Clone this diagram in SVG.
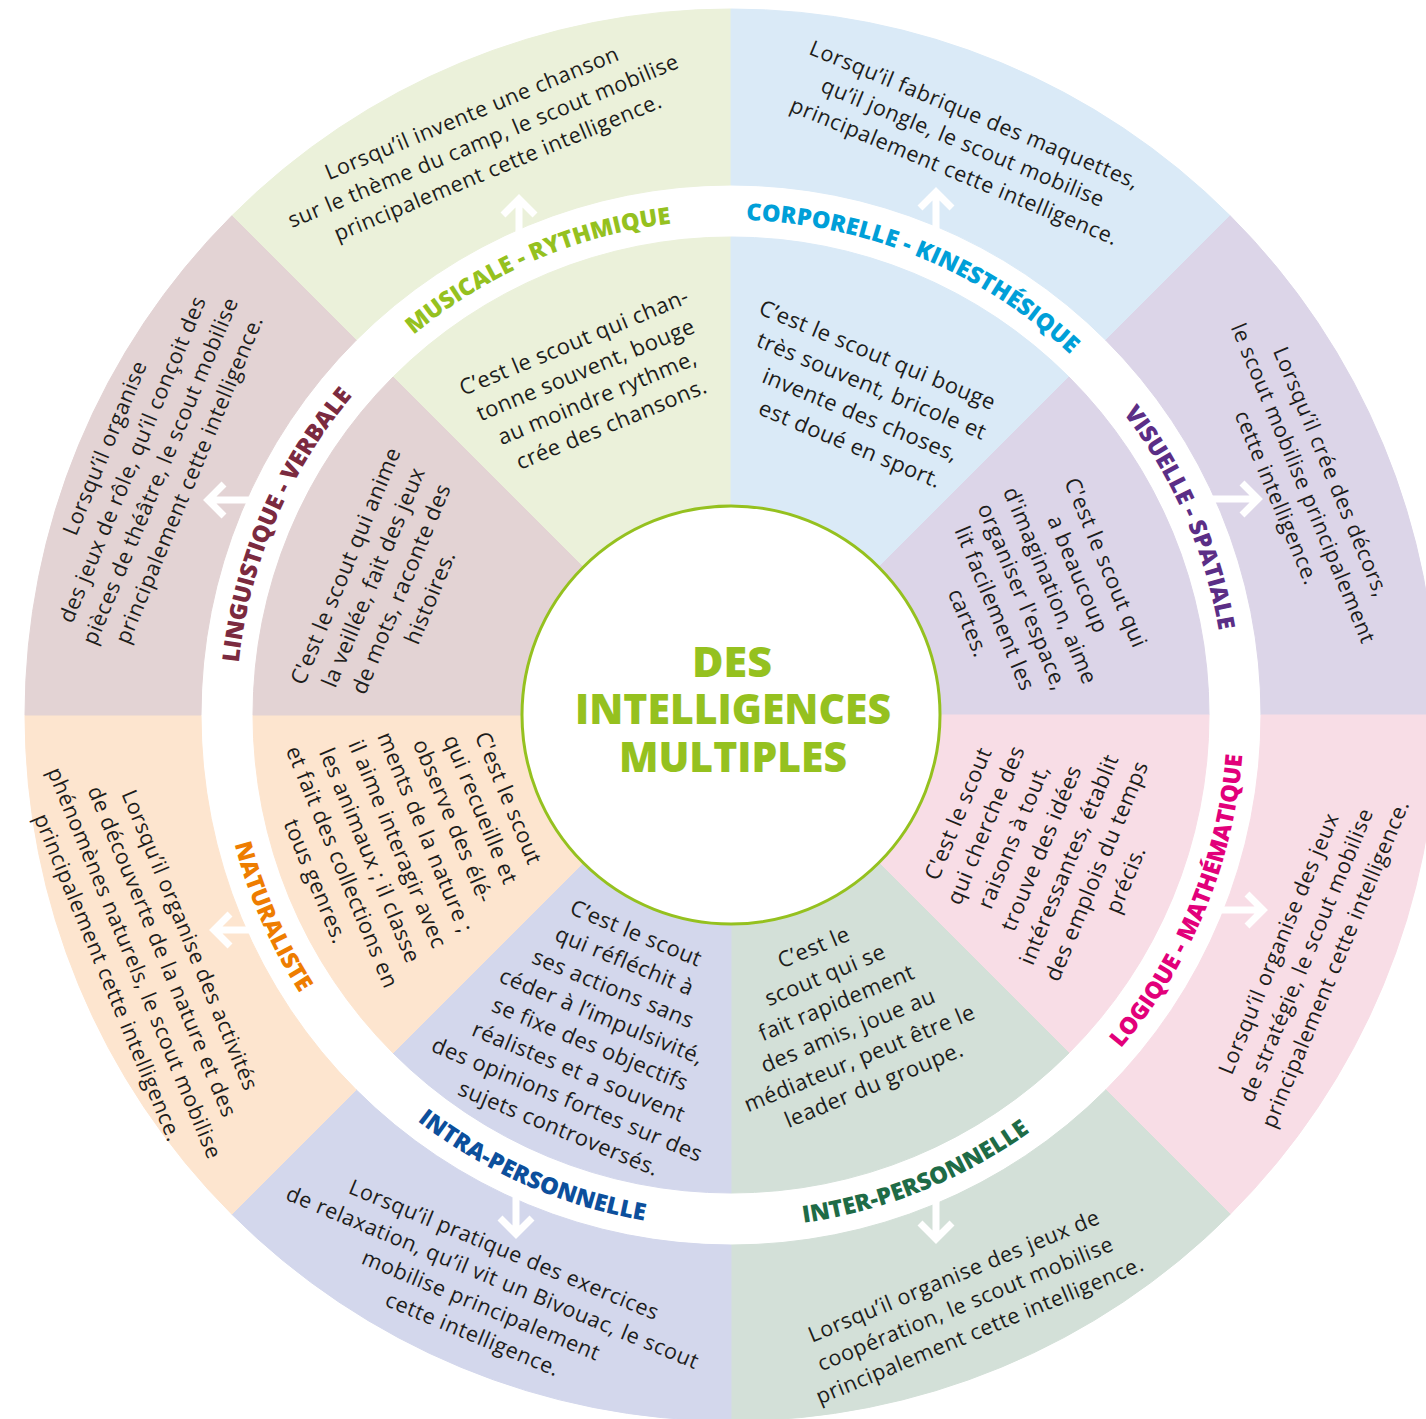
<svg xmlns="http://www.w3.org/2000/svg" xmlns:xlink="http://www.w3.org/1999/xlink" width="1426" height="1419" viewBox="0 0 1426 1419">
  <style>
    .txt { font-family: "Open Sans", "Noto Sans", "Liberation Sans", sans-serif; fill: #1d1d1b; }
    .in { font-size: 22px; letter-spacing: 0.5px; }
    .out { font-size: 21.5px; letter-spacing: 0.6px; }
    .lbl { font-family: "Open Sans", "Noto Sans", sans-serif; font-weight: 800; font-size: 23.5px; }
    .title { font-family: "Open Sans", "Noto Sans", sans-serif; font-weight: 800; font-size: 43px; fill: #95c11f; }
    .mus { fill: #ebf1da; stroke: #ebf1da; }
    .cor { fill: #daeaf7; stroke: #daeaf7; }
    .vis { fill: #dcd5e8; stroke: #dcd5e8; }
    .log { fill: #f8dde6; stroke: #f8dde6; }
    .ite { fill: #d3e0d8; stroke: #d3e0d8; }
    .itr { fill: #d3d7ec; stroke: #d3d7ec; }
    .nat { fill: #fde5cf; stroke: #fde5cf; }
    .lin { fill: #e3d3d4; stroke: #e3d3d4; }
    .wedge { stroke-width: 1; }
  </style>
  <defs>
    <!-- baseline arcs for the ring labels: clockwise in the upper half, counter-clockwise in the lower half -->
    <path id="arcMus" d="M338.3,413.6 A495,495 0 0 1 795.6,224.2"/>
    <path id="arcCor" d="M666.4,224.2 A495,495 0 0 1 1123.7,413.6"/>
    <path id="arcVis" d="M1032.4,322.3 A495,495 0 0 1 1221.8,779.6"/>
    <path id="arcLin" d="M240.2,779.6 A495,495 0 0 1 429.6,322.3"/>
    <path id="arcLog" d="M1043.3,1122 A513,513 0 0 0 1239.6,648.1"/>
    <path id="arcIte" d="M664.1,1223.6 A513,513 0 0 0 1138,1027.3"/>
    <path id="arcItr" d="M324,1027.3 A513,513 0 0 0 797.9,1223.6"/>
    <path id="arcNat" d="M222.4,648.1 A513,513 0 0 0 418.7,1122"/>
    <!-- white arrow pointing up, tip at the origin -->
    <path id="arrowUp" d="M0,3 V56 M-16,19 L0,3 L16,19" fill="none" stroke="#ffffff" stroke-width="7"/>
  </defs>

  <rect x="0" y="0" width="1426" height="1419" fill="#ffffff"/>

  <g id="musicale-rythmique">
    <path class="mus wedge" d="M731,715 L393,377 A478,478 0 0 1 731,237 Z"/>
    <path class="mus wedge" d="M231.8,215.8 A706,706 0 0 1 731,9 L731,185 A530,530 0 0 0 356.2,340.2 Z"/>
    <text class="lbl" fill="#95c11f"><textPath href="#arcMus" startOffset="48.5%" text-anchor="middle">MUSICALE - RYTHMIQUE</textPath></text>
    <text class="txt in" text-anchor="middle" transform="translate(594,382) rotate(-22.5)">
      <tspan x="0" y="-37">C’est le scout qui chan-</tspan>
      <tspan x="0" y="-7">tonne souvent, bouge</tspan>
      <tspan x="0" y="23">au moindre rythme,</tspan>
      <tspan x="0" y="53">crée des chansons.</tspan>
    </text>
    <text class="txt out" text-anchor="middle" transform="translate(486,139) rotate(-22.5)">
      <tspan x="0" y="-22">Lorsqu’il invente une chanson</tspan>
      <tspan x="0" y="8">sur le thème du camp, le scout mobilise</tspan>
      <tspan x="0" y="38">principalement cette intelligence.</tspan>
    </text>
  </g>

  <g id="corporelle-kinesthesique">
    <path class="cor wedge" d="M731,715 L731,237 A478,478 0 0 1 1069,377 Z"/>
    <path class="cor wedge" d="M731,9 A706,706 0 0 1 1230.2,215.8 L1105.8,340.2 A530,530 0 0 0 731,185 Z"/>
    <text class="lbl" fill="#009fd8"><textPath href="#arcCor" startOffset="50%" text-anchor="middle">CORPORELLE - KINESTHÉSIQUE</textPath></text>
    <text class="txt in" transform="translate(869,392) rotate(22.5)">
      <tspan x="-133" y="-30">C’est le scout qui bouge</tspan>
      <tspan x="-123" y="1">très souvent, bricole et</tspan>
      <tspan x="-104" y="32">invente des choses,</tspan>
      <tspan x="-95" y="63">est doué en sport.</tspan>
    </text>
    <text class="txt out" text-anchor="middle" transform="translate(966,143) rotate(22.5)">
      <tspan x="0" y="-22">Lorsqu’il fabrique des maquettes,</tspan>
      <tspan x="0" y="8">qu’il jongle, le scout mobilise</tspan>
      <tspan x="0" y="38">principalement cette intelligence.</tspan>
    </text>
  </g>

  <g id="visuelle-spatiale">
    <path class="vis wedge" d="M731,715 L1069,377 A478,478 0 0 1 1209,715 Z"/>
    <path class="vis wedge" d="M1230.2,215.8 A706,706 0 0 1 1437,715 L1261,715 A530,530 0 0 0 1105.8,340.2 Z"/>
    <text class="lbl" fill="#5b2e86"><textPath href="#arcVis" startOffset="48%" text-anchor="middle">VISUELLE - SPATIALE</textPath></text>
    <text class="txt in" text-anchor="middle" transform="translate(1038,594) rotate(67.5)">
      <tspan x="0" y="-67">C'est le scout qui</tspan>
      <tspan x="0" y="-37">a beaucoup</tspan>
      <tspan x="0" y="-7">d'imagination, aime</tspan>
      <tspan x="0" y="23">organiser l'espace,</tspan>
      <tspan x="0" y="53">lit facilement les</tspan>
      <tspan x="0" y="83">cartes.</tspan>
    </text>
    <text class="txt out" text-anchor="middle" transform="translate(1305,486) rotate(67.5)">
      <tspan x="0" y="-22">Lorsqu’il crée des décors,</tspan>
      <tspan x="0" y="8">le scout mobilise principalement</tspan>
      <tspan x="0" y="38">cette intelligence.</tspan>
    </text>
  </g>

  <g id="logique-mathematique">
    <path class="log wedge" d="M731,715 L1209,715 A478,478 0 0 1 1069,1053 Z"/>
    <path class="log wedge" d="M1437,715 A706,706 0 0 1 1230.2,1214.2 L1105.8,1089.8 A530,530 0 0 0 1261,715 Z"/>
    <text class="lbl" fill="#e2007a"><textPath href="#arcLog" startOffset="50%" text-anchor="middle">LOGIQUE - MATHÉMATIQUE</textPath></text>
    <text class="txt in" text-anchor="middle" transform="translate(1042,845) rotate(-67.5)">
      <tspan x="0" y="-82">C'est le scout</tspan>
      <tspan x="0" y="-52">qui cherche des</tspan>
      <tspan x="0" y="-22">raisons à tout,</tspan>
      <tspan x="0" y="8">trouve des idées</tspan>
      <tspan x="0" y="38">intéressantes, établit</tspan>
      <tspan x="0" y="68">des emplois du temps</tspan>
      <tspan x="0" y="98">précis.</tspan>
    </text>
    <text class="txt out" text-anchor="middle" transform="translate(1307,952) rotate(-67.5)">
      <tspan x="0" y="-22">Lorsqu’il organise des jeux</tspan>
      <tspan x="0" y="8">de stratégie, le scout mobilise</tspan>
      <tspan x="0" y="38">principalement cette intelligence.</tspan>
    </text>
  </g>

  <g id="inter-personnelle">
    <path class="ite wedge" d="M731,715 L1069,1053 A478,478 0 0 1 731,1193 Z"/>
    <path class="ite wedge" d="M1230.2,1214.2 A706,706 0 0 1 731,1421 L731,1245 A530,530 0 0 0 1105.8,1089.8 Z"/>
    <text class="lbl" fill="#1e6b46"><textPath href="#arcIte" startOffset="49%" text-anchor="middle">INTER-PERSONNELLE</textPath></text>
    <text class="txt in" text-anchor="middle" transform="translate(845,1015) rotate(-22.5)">
      <tspan x="0" y="-67">C’est le</tspan>
      <tspan x="0" y="-37">scout qui se</tspan>
      <tspan x="0" y="-7">fait rapidement</tspan>
      <tspan x="0" y="23">des amis, joue au</tspan>
      <tspan x="0" y="53">médiateur, peut être le</tspan>
      <tspan x="0" y="83">leader du groupe.</tspan>
    </text>
    <text class="txt out" text-anchor="middle" transform="translate(968,1302) rotate(-22.5)">
      <tspan x="0" y="-22">Lorsqu’il organise des jeux de</tspan>
      <tspan x="0" y="8">coopération, le scout mobilise</tspan>
      <tspan x="0" y="38">principalement cette intelligence.</tspan>
    </text>
  </g>

  <g id="intra-personnelle">
    <path class="itr wedge" d="M731,715 L731,1193 A478,478 0 0 1 393,1053 Z"/>
    <path class="itr wedge" d="M731,1421 A706,706 0 0 1 231.8,1214.2 L356.2,1089.8 A530,530 0 0 0 731,1245 Z"/>
    <text class="lbl" fill="#0c4f9c"><textPath href="#arcItr" startOffset="48%" text-anchor="middle">INTRA-PERSONNELLE</textPath></text>
    <text class="txt in" text-anchor="middle" transform="translate(599,1031) rotate(22.5)">
      <tspan x="0" y="-97">C’est le scout</tspan>
      <tspan x="0" y="-67">qui réfléchit à</tspan>
      <tspan x="0" y="-37">ses actions sans</tspan>
      <tspan x="0" y="-7">céder à l’impulsivité,</tspan>
      <tspan x="0" y="23">se fixe des objectifs</tspan>
      <tspan x="0" y="53">réalistes et a souvent</tspan>
      <tspan x="0" y="83">des opinions fortes sur des</tspan>
      <tspan x="0" y="113">sujets controversés.</tspan>
    </text>
    <text class="txt out" text-anchor="middle" transform="translate(490,1292) rotate(22.5)">
      <tspan x="0" y="-37">Lorsqu’il pratique des exercices</tspan>
      <tspan x="0" y="-7">de relaxation, qu’il vit un Bivouac, le scout</tspan>
      <tspan x="0" y="23">mobilise principalement</tspan>
      <tspan x="0" y="53">cette intelligence.</tspan>
    </text>
  </g>

  <g id="naturaliste">
    <path class="nat wedge" d="M731,715 L393,1053 A478,478 0 0 1 253,715 Z"/>
    <path class="nat wedge" d="M231.8,1214.2 A706,706 0 0 1 25,715 L201,715 A530,530 0 0 0 356.2,1089.8 Z"/>
    <text class="lbl" fill="#ee7d00"><textPath href="#arcNat" startOffset="52%" text-anchor="middle">NATURALISTE</textPath></text>
    <text class="txt in" text-anchor="middle" transform="translate(413,841) rotate(67.5)">
      <tspan x="0" y="-97">C'est le scout</tspan>
      <tspan x="0" y="-67">qui recueille et</tspan>
      <tspan x="0" y="-37">observe des élé-</tspan>
      <tspan x="0" y="-7">ments de la nature ;</tspan>
      <tspan x="0" y="23">il aime interagir avec</tspan>
      <tspan x="0" y="53">les animaux ; il classe</tspan>
      <tspan x="0" y="83">et fait des collections en</tspan>
      <tspan x="0" y="113">tous genres.</tspan>
    </text>
    <text class="txt out" text-anchor="middle" transform="translate(150,960) rotate(67.5)">
      <tspan x="0" y="-37">Lorsqu’il organise des activités</tspan>
      <tspan x="0" y="-7">de découverte de la nature et des</tspan>
      <tspan x="0" y="23">phénomènes naturels, le scout mobilise</tspan>
      <tspan x="0" y="53">principalement cette intelligence.</tspan>
    </text>
  </g>

  <g id="linguistique-verbale">
    <path class="lin wedge" d="M731,715 L253,715 A478,478 0 0 1 393,377 Z"/>
    <path class="lin wedge" d="M25,715 A706,706 0 0 1 231.8,215.8 L356.2,340.2 A530,530 0 0 0 201,715 Z"/>
    <text class="lbl" fill="#7b2a3f"><textPath href="#arcLin" startOffset="51%" text-anchor="middle">LINGUISTIQUE - VERBALE</textPath></text>
    <text class="txt in" text-anchor="middle" transform="translate(388,580) rotate(-67.5)">
      <tspan x="0" y="-37">C'est le scout qui anime</tspan>
      <tspan x="0" y="-7">la veillée, fait des jeux</tspan>
      <tspan x="0" y="23">de mots, raconte des</tspan>
      <tspan x="0" y="53">histoires.</tspan>
    </text>
    <text class="txt out" text-anchor="middle" transform="translate(147,462) rotate(-67.5)">
      <tspan x="0" y="-37">Lorsqu’il organise</tspan>
      <tspan x="0" y="-7">des jeux de rôle, qu’il conçoit des</tspan>
      <tspan x="0" y="23">pièces de théâtre, le scout mobilise</tspan>
      <tspan x="0" y="53">principalement cette intelligence.</tspan>
    </text>
  </g>

  <g id="des-intelligences-multiples">
    <circle cx="731" cy="715" r="209" fill="#ffffff" stroke="#95c11f" stroke-width="3"/>
    <text class="title" text-anchor="middle" x="732" y="677" textLength="80" lengthAdjust="spacingAndGlyphs">DES</text>
    <text class="title" text-anchor="middle" x="733" y="724" textLength="316" lengthAdjust="spacingAndGlyphs">INTELLIGENCES</text>
    <text class="title" text-anchor="middle" x="733" y="772" textLength="228" lengthAdjust="spacingAndGlyphs">MULTIPLES</text>
  </g>

  <g id="connectors">
    <use href="#arrowUp" transform="translate(519,196)"/>
    <use href="#arrowUp" transform="translate(936,189)"/>
    <use href="#arrowUp" transform="translate(1261,499) rotate(90)"/>
    <use href="#arrowUp" transform="translate(1266,910) rotate(90)"/>
    <use href="#arrowUp" transform="translate(936,1242) rotate(180)"/>
    <use href="#arrowUp" transform="translate(516,1237) rotate(180)"/>
    <use href="#arrowUp" transform="translate(211,930) rotate(-90)"/>
    <use href="#arrowUp" transform="translate(205,500) rotate(-90)"/>
  </g>
</svg>
